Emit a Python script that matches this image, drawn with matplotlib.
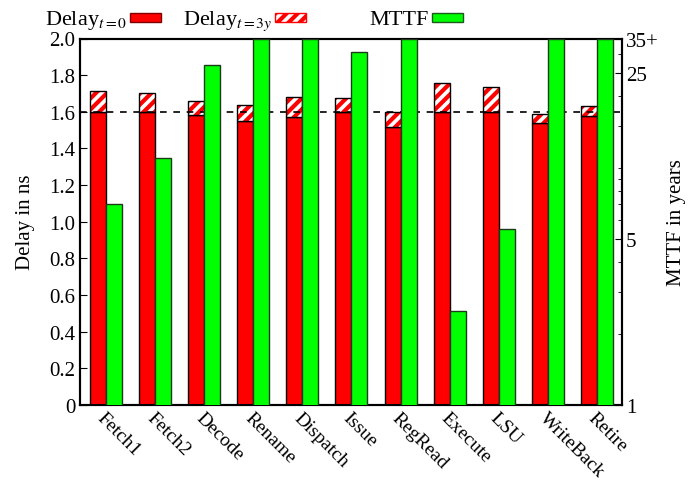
import numpy as np
import matplotlib
matplotlib.use('Agg')
import matplotlib.pyplot as plt
from matplotlib.patches import Rectangle

plt.rcParams['font.family'] = ['Liberation Serif', 'DejaVu Serif']
plt.rcParams['mathtext.fontset'] = 'stix'
plt.rcParams['hatch.linewidth'] = 3

stages = ['Fetch1', 'Fetch2', 'Decode', 'Rename', 'Dispatch', 'Issue',
          'RegRead', 'Execute', 'LSU', 'WriteBack', 'Retire']
delay_t0 = [1.60, 1.60, 1.58, 1.55, 1.57, 1.60, 1.515, 1.60, 1.60, 1.54, 1.575]
delay_t3y = [1.715, 1.70, 1.66, 1.635, 1.68, 1.675, 1.597, 1.758, 1.733, 1.59, 1.63]
# 35 = "35+" (off the top of the axis)
mttf = [7.0, 11.0, 27.0, 35, 35, 30.7, 35, 2.5, 5.5, 35, 35]
target_delay = 1.6

x = np.arange(len(stages))
w = 0.326

fig = plt.figure(figsize=(6.91, 4.85), dpi=100)
ax = fig.add_axes([80/691, 79/485, 542/691, 366.5/485])
ax2 = ax.twinx()

# delay bars
ax.bar(x - w/2, delay_t0, w, color='#ff0000', edgecolor='black', linewidth=1, zorder=3)
aged = np.array(delay_t3y) - np.array(delay_t0)
ax.bar(x - w/2, aged, w, bottom=delay_t0, color='white', edgecolor='#ff0000',
       hatch='///', linewidth=0, zorder=3)
ax.bar(x - w/2, aged, w, bottom=delay_t0, fill=False, edgecolor='black',
       linewidth=1, zorder=4)
ax.axhline(target_delay, color='black', linestyle=(0, (4, 4)), linewidth=1.2, zorder=5)

ax.set_ylim(0, 2.0)
ax.set_xlim(-0.53, 10.51)
ax.set_yticks(np.arange(0, 2.01, 0.2))
ax.set_yticklabels(['0'] + ['%.1f' % v for v in np.arange(0.2, 2.01, 0.2)])
ax.set_ylabel('Delay in ns', fontsize=15, labelpad=10)
ax.set_xticks(x)
ax.set_xticklabels(stages, rotation=-45, ha='left', va='top', rotation_mode='anchor', fontsize=14)
ax.tick_params(axis='x', length=0, pad=3)
ax.tick_params(axis='y', direction='in', length=5, labelsize=15, right=False)

# MTTF bars on log axis
ax2.set_yscale('log')
ax2.bar(x + w/2, mttf, w, color='#00ff00', edgecolor='#1a3a1a', linewidth=1, zorder=3)
ax2.set_ylim(1, 35)
ax2.set_yticks([1, 5, 25, 35])
ax2.set_yticklabels(['1', '5', '25', '35+'])
ax2.set_yticks([2, 3, 4, 6, 7, 8, 9, 10, 15, 20, 30], minor=True)
ax2.yaxis.set_minor_formatter(plt.NullFormatter())
ax2.tick_params(axis='y', which='major', direction='in', length=5, labelsize=15, pad=3)
ax2.tick_params(axis='y', which='minor', direction='in', length=3)
ax2.set_ylabel('MTTF in years', fontsize=15, labelpad=6)
ax2.set_xlim(-0.53, 10.51)

for a in (ax, ax2):
    for s in a.spines.values():
        s.set_linewidth(1.5)

# legend across the top
items = [
    (r'Delay$_{t=0}$', 130, dict(facecolor='#ff0000', edgecolor='#800000')),
    (r'Delay$_{t=3y}$', 275, dict(facecolor='white', edgecolor='#ff0000', hatch='///')),
    ('MTTF', 432, dict(facecolor='#00ff00', edgecolor='#1a5a1a')),
]
for label, px, style in items:
    fig.text((px - 3)/691, 1 - 25/485, label, ha='right', va='baseline', fontsize=16)
    fig.patches.append(Rectangle((px/691, 1 - 23/485), 31/691, 9/485,
                                 transform=fig.transFigure, linewidth=1, **style))

fig.savefig('out.png', dpi=100)
